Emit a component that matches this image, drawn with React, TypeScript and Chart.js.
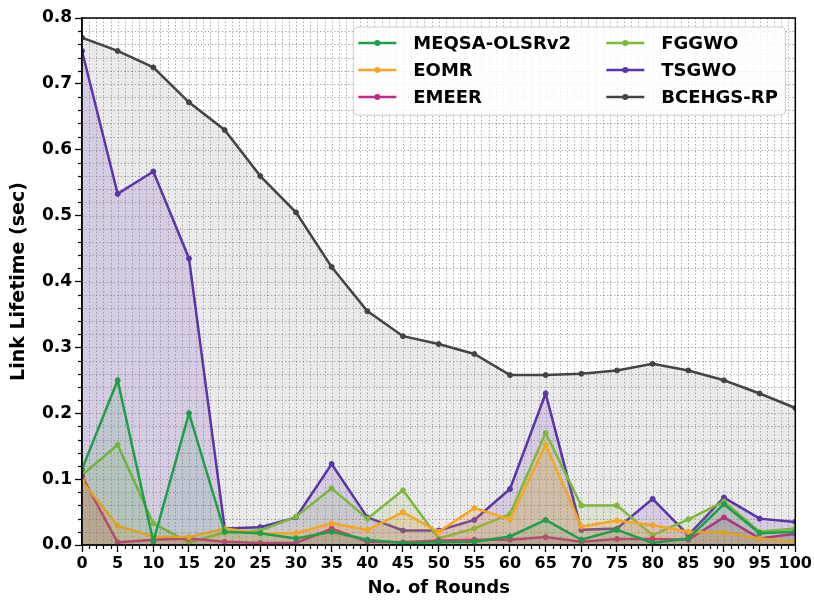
import React, { useEffect, useRef } from "react";
import { Chart, registerables } from "chart.js";

Chart.register(...registerables);

const rounds = [0, 5, 10, 15, 20, 25, 30, 35, 40, 45, 50, 55, 60, 65, 70, 75, 80, 85, 90, 95, 100];
const meqsa = [0.115, 0.25, 0.005, 0.2, 0.02, 0.018, 0.01, 0.02, 0.008, 0.003, 0.004, 0.005, 0.013, 0.038, 0.008, 0.023, 0.003, 0.01, 0.062, 0.018, 0.02];
const eomr = [0.097, 0.029, 0.013, 0.012, 0.025, 0.018, 0.018, 0.033, 0.023, 0.05, 0.02, 0.056, 0.039, 0.152, 0.028, 0.037, 0.03, 0.02, 0.019, 0.01, 0.005];
const emeer = [0.104, 0.004, 0.008, 0.01, 0.005, 0.003, 0.003, 0.025, 0.005, 0.004, 0.007, 0.008, 0.008, 0.012, 0.005, 0.009, 0.009, 0.008, 0.042, 0.01, 0.017];
const fggwo = [0.106, 0.152, 0.033, 0.004, 0.019, 0.022, 0.043, 0.086, 0.04, 0.083, 0.01, 0.025, 0.047, 0.17, 0.06, 0.06, 0.015, 0.039, 0.066, 0.02, 0.025];
const tsgwo = [0.75, 0.533, 0.567, 0.435, 0.025, 0.027, 0.042, 0.123, 0.042, 0.022, 0.022, 0.038, 0.085, 0.23, 0.023, 0.025, 0.07, 0.015, 0.072, 0.04, 0.035];
const bcehgs = [0.77, 0.75, 0.725, 0.672, 0.63, 0.56, 0.505, 0.422, 0.355, 0.317, 0.305, 0.29, 0.258, 0.258, 0.26, 0.265, 0.275, 0.265, 0.25, 0.23, 0.208];

const seriesNames = ["MEQSA-OLSRv2", "EOMR", "EMEER", "FGGWO", "TSGWO", "BCEHGS-RP"];
const seriesValues = [meqsa, eomr, emeer, fggwo, tsgwo, bcehgs];
const seriesColors = ["#1f9e4a", "#f5a623", "#c2298a", "#7db83a", "#5a35a8", "#444444"];
const fillColors = [
  "rgba(31,158,74,0.12)",
  "rgba(230,150,40,0.22)",
  "rgba(160,40,110,0.18)",
  "rgba(125,184,58,0.12)",
  "rgba(125,80,185,0.2)",
  "rgba(140,140,140,0.18)",
];

const xTickLabels = rounds.map(String);
const yTickLabels = ["0.0", "0.1", "0.2", "0.3", "0.4", "0.5", "0.6", "0.7", "0.8"];

const FONT = "'DejaVu Sans', sans-serif";

const gridPlugin = {
  id: "dottedGrid",
  beforeDatasetsDraw(chart: any) {
    const { ctx, chartArea, scales } = chart;
    const xs = scales.x;
    const ys = scales.y;
    ctx.save();
    ctx.beginPath();
    ctx.rect(chartArea.left, chartArea.top, chartArea.right - chartArea.left, chartArea.bottom - chartArea.top);
    ctx.clip();
    ctx.strokeStyle = "rgba(120,120,120,0.6)";
    ctx.lineWidth = 1;
    ctx.setLineDash([1.5, 2]);
    for (let v = 0; v <= 100; v += 1) {
      const px = Math.round(xs.getPixelForValue(v)) + 0.5;
      ctx.beginPath();
      ctx.moveTo(px, chartArea.top);
      ctx.lineTo(px, chartArea.bottom);
      ctx.stroke();
    }
    for (let i = 0; i <= 40; i++) {
      const py = Math.round(ys.getPixelForValue(i * 0.02)) + 0.5;
      ctx.beginPath();
      ctx.moveTo(chartArea.left, py);
      ctx.lineTo(chartArea.right, py);
      ctx.stroke();
    }
    ctx.restore();
  },
  afterDraw(chart: any) {
    const { ctx, chartArea, scales } = chart;
    const xs = scales.x;
    const ys = scales.y;
    ctx.save();
    ctx.strokeStyle = "#000";
    ctx.lineWidth = 1.2;
    for (let v = 0; v <= 100; v += 1) {
      if (v % 5 === 0) continue;
      const px = Math.round(xs.getPixelForValue(v)) + 0.5;
      ctx.beginPath();
      ctx.moveTo(px, chartArea.bottom);
      ctx.lineTo(px, chartArea.bottom + 4);
      ctx.stroke();
    }
    for (let i = 0; i <= 40; i++) {
      if (i % 5 === 0) continue;
      const py = Math.round(ys.getPixelForValue(i * 0.02)) + 0.5;
      ctx.beginPath();
      ctx.moveTo(chartArea.left - 4, py);
      ctx.lineTo(chartArea.left, py);
      ctx.stroke();
    }
    ctx.lineWidth = 1.5;
    ctx.strokeRect(chartArea.left, chartArea.top, chartArea.right - chartArea.left, chartArea.bottom - chartArea.top);

    // legend
    const bx = chartArea.right - 442;
    const by = chartArea.top + 9;
    const bw = 432;
    const bh = 88;
    ctx.beginPath();
    (ctx as any).roundRect(bx, by, bw, bh, 4);
    ctx.fillStyle = "rgba(255,255,255,0.85)";
    ctx.fill();
    ctx.strokeStyle = "#cccccc";
    ctx.lineWidth = 1;
    ctx.stroke();
    ctx.font = `bold 18px ${FONT}`;
    ctx.textBaseline = "middle";
    for (let i = 0; i < seriesNames.length; i++) {
      const col = Math.floor(i / 3);
      const row = i % 3;
      const lx = bx + 5 + col * 248;
      const ly = by + 16 + row * 27;
      ctx.strokeStyle = seriesColors[i];
      ctx.lineWidth = 2.5;
      ctx.beginPath();
      ctx.moveTo(lx, ly);
      ctx.lineTo(lx + 38, ly);
      ctx.stroke();
      ctx.fillStyle = seriesColors[i];
      ctx.beginPath();
      ctx.arc(lx + 19, ly, 3, 0, Math.PI * 2);
      ctx.fill();
      ctx.fillStyle = "#000";
      ctx.fillText(seriesNames[i], lx + 55, ly + 1);
    }
    ctx.restore();
  },
};

export default function App() {
  const ref = useRef<HTMLCanvasElement>(null);
  useEffect(() => {
    if (!ref.current) return;
    const datasets = seriesNames.map((name, i) => ({
      label: name,
      data: rounds.map((r, j) => ({ x: r, y: seriesValues[i][j] })),
      borderColor: seriesColors[i],
      backgroundColor: fillColors[i],
      pointBackgroundColor: seriesColors[i],
      pointBorderColor: seriesColors[i],
      pointRadius: 2.5,
      pointBorderWidth: 1,
      borderWidth: 2.5,
      fill: "origin",
      tension: 0,
    }));
    const chart = new Chart(ref.current, {
      type: "line",
      data: { datasets },
      plugins: [gridPlugin],
      options: {
        animation: false,
        responsive: false,
        devicePixelRatio: 1,
        layout: { padding: { top: 18, right: 17, left: 0, bottom: 0 } },
        plugins: { legend: { display: false }, tooltip: { enabled: false } },
        scales: {
          x: {
            type: "linear",
            min: 0,
            max: 100,
            afterBuildTicks: (s: any) => {
              s.ticks = rounds.map((v) => ({ value: v }));
            },
            ticks: {
              autoSkip: false,
              maxRotation: 0,
              padding: 2,
              color: "#000",
              font: { family: FONT, weight: "bold", size: 16 },
              callback: (v: any, idx: number) => xTickLabels[idx] ?? String(v),
            },
            grid: { drawOnChartArea: false, drawTicks: true, tickLength: 7, tickColor: "#000", tickWidth: 1.3 },
            border: { color: "#000", width: 1.5 },
            title: {
              display: true,
              text: "No. of Rounds",
              color: "#000",
              font: { family: FONT, weight: "bold", size: 18 },
              padding: { top: 0, bottom: 3 },
            },
            afterFit: (s: any) => {
              s.height = 57;
            },
          },
          y: {
            type: "linear",
            min: 0,
            max: 0.8,
            afterBuildTicks: (s: any) => {
              s.ticks = yTickLabels.map((t) => ({ value: parseFloat(t) }));
            },
            ticks: {
              padding: 3,
              color: "#000",
              font: { family: FONT, weight: "bold", size: 17 },
              callback: (v: any, idx: number) => yTickLabels[idx] ?? String(v),
            },
            grid: { drawOnChartArea: false, drawTicks: true, tickLength: 7, tickColor: "#000", tickWidth: 1.3 },
            border: { color: "#000", width: 1.5 },
            title: {
              display: true,
              text: "Link Lifetime (sec)",
              color: "#000",
              font: { family: FONT, weight: "bold", size: 19 },
              padding: { top: 8, bottom: 4 },
            },
            afterFit: (s: any) => {
              s.width = 82;
            },
          },
        },
      } as any,
    });
    return () => chart.destroy();
  }, []);
  return (
    <div style={{ position: "fixed", left: 0, top: 0, width: 814, height: 602, background: "#fff" }}>
      <canvas ref={ref} width={814} height={602} style={{ width: 814, height: 602 }} />
    </div>
  );
}
